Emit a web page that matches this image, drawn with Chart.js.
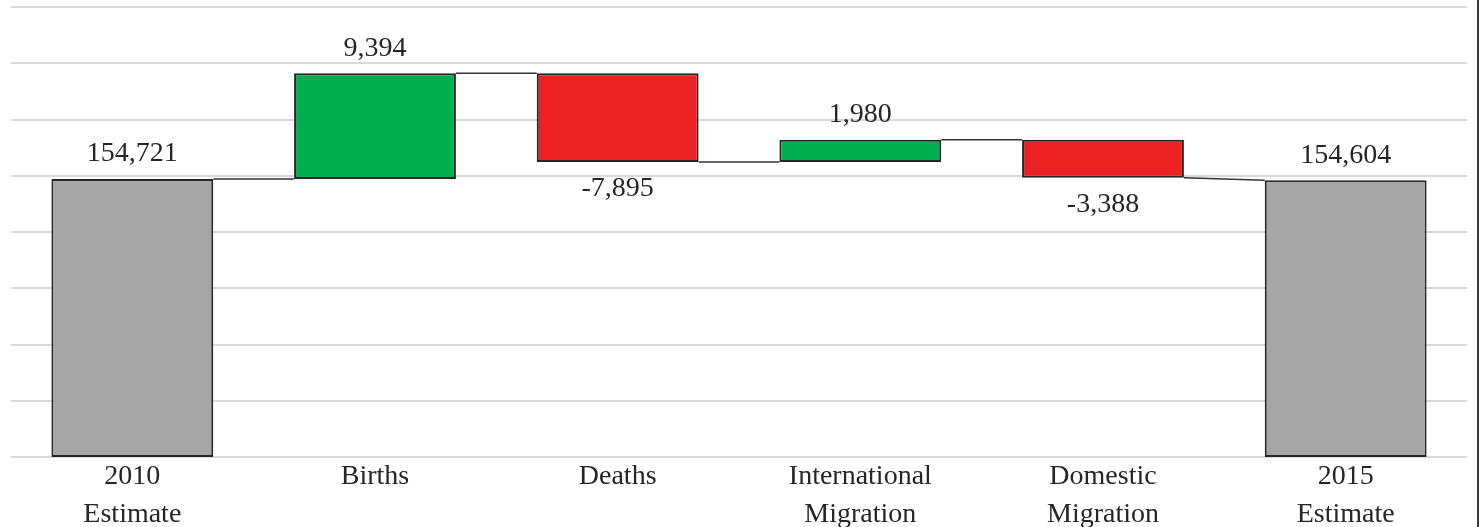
<!DOCTYPE html>
<html>
<head>
<meta charset="utf-8">
<script src="https://cdn.jsdelivr.net/npm/chart.js@4"></script>
<style>
  html, body { margin: 0; padding: 0; background: #ffffff; }
  #wrap { position: relative; width: 1480px; height: 527px; }
  #edge { position: absolute; left: 1477px; top: 0; width: 2px; height: 527px; background: #3a3a3a; }
</style>
</head>
<body>
<div id="wrap">
  <canvas id="c" width="1480" height="527"></canvas>
  <div id="edge"></div>
</div>
<script>
// ---- data ----
const categories = [["2010", "Estimate"], "Births", "Deaths", ["International", "Migration"], ["Domestic", "Migration"], ["2015", "Estimate"]];
const values = [154721, 9394, -7895, 1980, -3388, 154604];
const isTotal = [true, false, false, false, false, true];
const axisMin = 130000;
const axisMax = 170000;
const axisStep = 5000;

// ---- derived floating ranges ----
const ranges = [];
let running = 0;
values.forEach((v, i) => {
  if (isTotal[i]) {
    ranges.push([axisMin, v]);
    running = v;
  } else {
    ranges.push([running, running + v]);
    running += v;
  }
});
const fills = values.map((v, i) => isTotal[i] ? '#a6a6a6' : (v >= 0 ? '#00b050' : '#ed2024'));

const SERIF = '"Liberation Serif", "DejaVu Serif", serif';

const waterfallExtras = {
  id: 'waterfallExtras',
  afterDatasetsDraw(chart) {
    const ctx = chart.ctx;
    const meta = chart.getDatasetMeta(0);
    const y = chart.scales.y;
    // connectors
    ctx.save();
    ctx.strokeStyle = '#333333';
    ctx.lineWidth = 1.5;
    for (let i = 0; i < ranges.length - 1; i++) {
      const a = meta.data[i], b = meta.data[i + 1];
      const endLevel = isTotal[i] ? values[i] : ranges[i][1];
      const startLevel = isTotal[i + 1] ? values[i + 1] : ranges[i + 1][0];
      const ax = a.x + a.width / 2, bx = b.x - b.width / 2;
      ctx.beginPath();
      ctx.moveTo(ax, y.getPixelForValue(endLevel));
      ctx.lineTo(bx, y.getPixelForValue(startLevel));
      ctx.stroke();
    }
    ctx.restore();
    // value labels
    ctx.save();
    ctx.font = '28px ' + SERIF;
    ctx.fillStyle = '#262626';
    ctx.textAlign = 'center';
    ctx.textBaseline = 'middle';
    values.forEach((v, i) => {
      const el = meta.data[i];
      const txt = v.toLocaleString('en-US');
      const topPx = y.getPixelForValue(Math.max(ranges[i][0], ranges[i][1]));
      const botPx = y.getPixelForValue(Math.min(ranges[i][0], ranges[i][1]));
      if (isTotal[i] || v >= 0) {
        ctx.fillText(txt, el.x, topPx - 25);
      } else {
        ctx.fillText(txt, el.x, botPx + 27);
      }
    });
    ctx.restore();
  }
};

new Chart(document.getElementById('c'), {
  type: 'bar',
  data: {
    labels: categories,
    datasets: [{
      data: ranges,
      backgroundColor: fills,
      borderColor: '#262626',
      borderWidth: 2,
      borderSkipped: false,
      categoryPercentage: 1,
      barPercentage: 0.667,
      clip: 1
    }]
  },
  options: {
    responsive: false,
    animation: false,
    devicePixelRatio: 1,
    layout: { padding: { left: 11, right: 13, top: 7, bottom: 0 } },
    plugins: {
      legend: { display: false },
      tooltip: { enabled: false }
    },
    scales: {
      x: {
        grid: { display: false },
        border: { display: false },
        ticks: {
          color: '#262626',
          padding: -7,
          maxRotation: 0,
          autoSkip: false,
          font: { family: SERIF, size: 28, lineHeight: 38 / 28 }
        },
        afterFit(scale) { scale.height = 70; }
      },
      y: {
        min: axisMin,
        max: axisMax,
        grid: { color: '#d9d9d9', lineWidth: 2, drawTicks: false },
        border: { display: false },
        ticks: { display: false, stepSize: axisStep },
        afterFit(scale) { scale.width = 0; }
      }
    }
  },
  plugins: [waterfallExtras]
});
</script>
</body>
</html>
